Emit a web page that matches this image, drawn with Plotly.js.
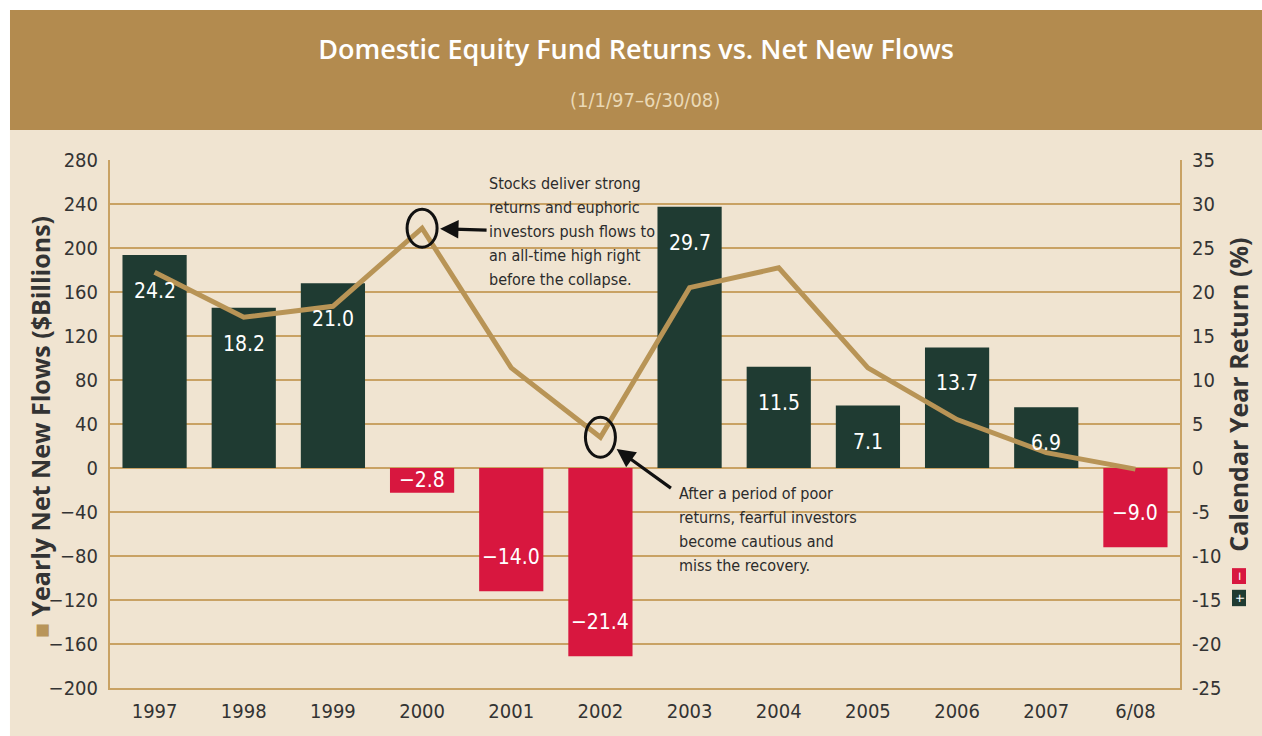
<!DOCTYPE html>
<html>
<head>
<meta charset="utf-8">
<script src="https://cdn.plot.ly/plotly-3.0.1.min.js"></script>
<style>
  html, body { margin: 0; padding: 0; background: #ffffff; }
  #chart { width: 1262px; height: 736px; }
</style>
</head>
<body>
<div id="chart"></div>
<script>
// ---- Data ----
const categories = ['1997', '1998', '1999', '2000', '2001', '2002', '2003', '2004', '2005', '2006', '2007', '6/08'];
const returnsPct = [24.2, 18.2, 21.0, -2.8, -14.0, -21.4, 29.7, 11.5, 7.1, 13.7, 6.9, -9.0];
const netFlows = [178, 137, 147, 218, 91, 28, 164, 182, 91, 44, 14, -1];
const flowTicks = [-200, -160, -120, -80, -40, 0, 40, 80, 120, 160, 200, 240, 280];
const returnTicks = [-25, -20, -15, -10, -5, 0, 5, 10, 15, 20, 25, 30, 35];
const note1Lines = ['Stocks deliver strong', 'returns and euphoric', 'investors push flows to', 'an all-time high right', 'before the collapse.'];
const note2Lines = ['After a period of poor', 'returns, fearful investors', 'become cautious and', 'miss the recovery.'];

// ---- Style ----
const GREEN = '#1f3b32';
const RED = '#d8173f';
const GOLD_LINE = '#b89456';
const GRID = '#c9a264';
const BEIGE = '#f0e4d1';
const HEADER = '#b38b4f';
const TXT = '#333333';
const NARROW = '"Liberation Sans Narrow", "DejaVu Sans Condensed", sans-serif';
const BOLD = '"Open Sans", sans-serif';

const barColors = returnsPct.map(v => v >= 0 ? GREEN : RED);
const idx = categories.map((c, i) => i); // category positions on the axis

const bars = {
  type: 'bar',
  x: categories,
  y: returnsPct,
  yaxis: 'y',
  marker: { color: barColors, line: { width: 0 } },
  hoverinfo: 'x+y',
  showlegend: false
};

const line = {
  type: 'scatter',
  mode: 'lines',
  x: categories,
  y: netFlows,
  yaxis: 'y2',
  line: { color: GOLD_LINE, width: 5, shape: 'linear' },
  showlegend: false
};

// bar value labels
const barLabels = returnsPct.map((v, i) => {
  const small = Math.abs(v) < 5;
  return {
    x: idx[i],
    y: small ? v / 2 : v,
    xref: 'x', yref: 'y',
    text: v.toFixed(1).replace('-', '\u2212'),
    showarrow: false,
    xanchor: 'center',
    yanchor: 'middle',
    yshift: small ? 0 : (v > 0 ? -36 : 34),
    font: { family: NARROW, size: 21, color: '#ffffff' }
  };
});

function noteLines(lines, x, y) {
  return lines.map((t, k) => ({
    xref: 'paper', yref: 'paper', x: x, y: y,
    xanchor: 'left', yanchor: 'middle', align: 'left',
    yshift: -24 * k,
    text: t, showarrow: false,
    font: { family: NARROW, size: 16, color: '#2b2b2b' }
  }));
}

const annotations = barLabels
  .concat(noteLines(note1Lines, 0.352, 1 - (183 - 160) / 528))
  .concat(noteLines(note2Lines, 0.530, 1 - (493 - 160) / 528))
  .concat([
  // subtitle
  {
    xref: 'paper', yref: 'paper', x: 0.5, y: 1.1136, xanchor: 'center', yanchor: 'middle',
    text: '(1/1/97\u20136/30/08)', showarrow: false,
    font: { family: NARROW, size: 20, color: '#ead9b6' }
  },
  // arrow 1
  {
    xref: 'x', yref: 'y2', x: idx[3], y: netFlows[3],
    ax: 66, ay: 2, axref: 'pixel', ayref: 'pixel',
    showarrow: true, arrowhead: 2, arrowsize: 1.15, arrowwidth: 3.2,
    arrowcolor: '#111111', standoff: 18, text: ''
  },
  // arrow 2
  {
    xref: 'x', yref: 'y2', x: idx[5], y: netFlows[5],
    ax: 72, ay: 52, axref: 'pixel', ayref: 'pixel',
    showarrow: true, arrowhead: 2, arrowsize: 1.15, arrowwidth: 3.2,
    arrowcolor: '#111111', standoff: 20, text: ''
  },
  // left axis title (with gold square marker)
  {
    xref: 'paper', yref: 'paper', x: -0.0654, y: 0.494, xanchor: 'center', yanchor: 'middle',
    text: '<span style="color:#b8955a">\u25A0</span> Yearly Net New Flows ($Billions)',
    textangle: -90, showarrow: false,
    font: { family: BOLD, size: 25, color: TXT, weight: 700 }
  },
  // right axis title
  {
    xref: 'paper', yref: 'paper', x: 1.054, y: 0.555, xanchor: 'center', yanchor: 'middle',
    text: 'Calendar Year Return (%)', textangle: -90, showarrow: false,
    font: { family: BOLD, size: 25, color: TXT, weight: 700 }
  },
  // minus / plus on icons
  {
    xref: 'paper', yref: 'paper', x: 1.0551, y: 0.212, xanchor: 'center', yanchor: 'middle',
    text: '\u2212', showarrow: false,
    textangle: -90, font: { family: NARROW, size: 13, color: '#ffffff' }
  },
  {
    xref: 'paper', yref: 'paper', x: 1.0551, y: 0.170, xanchor: 'center', yanchor: 'middle',
    text: '+', showarrow: false,
    textangle: -90, font: { family: NARROW, size: 13, color: '#ffffff' }
  }
]);

const shapes = [
  // header band
  { type: 'rect', xref: 'paper', yref: 'paper', x0: -0.0935, x1: 1.08, y0: 1.0568, y1: 1.284,
    fillcolor: HEADER, line: { width: 0 }, layer: 'below' },
  // white top strip
  { type: 'rect', xref: 'paper', yref: 'paper', x0: -0.11, x1: 1.08, y0: 1.284, y1: 1.31,
    fillcolor: '#ffffff', line: { width: 0 }, layer: 'below' },
  // white left strip
  { type: 'rect', xref: 'paper', yref: 'paper', x0: -0.11, x1: -0.0935, y0: -0.1, y1: 1.31,
    fillcolor: '#ffffff', line: { width: 0 }, layer: 'below' },
  // circle around 2000 peak
  { type: 'circle', xref: 'x', yref: 'y2', xsizemode: 'pixel', ysizemode: 'pixel',
    xanchor: idx[3], yanchor: netFlows[3], x0: -15, x1: 15, y0: -19, y1: 19,
    line: { color: '#111111', width: 3 }, layer: 'above' },
  // circle around 2002 trough
  { type: 'circle', xref: 'x', yref: 'y2', xsizemode: 'pixel', ysizemode: 'pixel',
    xanchor: idx[5], yanchor: netFlows[5], x0: -15, x1: 15, y0: -20, y1: 20,
    line: { color: '#111111', width: 3 }, layer: 'above' },
  // red (-) icon
  { type: 'rect', xref: 'paper', yref: 'paper', x0: 1.0486, x1: 1.0617, y0: 0.197, y1: 0.227,
    fillcolor: RED, line: { width: 0 } },
  // green (+) icon
  { type: 'rect', xref: 'paper', yref: 'paper', x0: 1.0486, x1: 1.0617, y0: 0.155, y1: 0.186,
    fillcolor: GREEN, line: { width: 0 } }
];

const layout = {
  width: 1262,
  height: 736,
  margin: { l: 110, r: 82, t: 160, b: 48 },
  paper_bgcolor: BEIGE,
  plot_bgcolor: 'rgba(0,0,0,0)',
  bargap: 0.28,
  title: {
    text: 'Domestic Equity Fund Returns vs. Net New Flows',
    x: 0.504, xanchor: 'center', y: 0.932, yanchor: 'middle',
    font: { family: BOLD, size: 27, color: '#ffffff', weight: 600 }
  },
  xaxis: {
    type: 'category',
    categoryorder: 'array',
    categoryarray: categories,
    range: [-0.5, 11.5],
    showgrid: false,
    showline: true, linecolor: GRID, linewidth: 2,
    ticks: '',
    tickfont: { family: NARROW, size: 20, color: TXT },
    ticklabelstandoff: 4,
    zeroline: false
  },
  yaxis: {
    side: 'right',
    range: [-25, 35],
    tickvals: returnTicks,
    ticktext: returnTicks.map(String),
    showgrid: true, gridcolor: GRID, gridwidth: 1.6,
    zeroline: true, zerolinecolor: GRID, zerolinewidth: 2,
    showline: true, linecolor: GRID, linewidth: 2,
    ticks: '',
    tickfont: { family: NARROW, size: 20, color: TXT },
    ticklabelstandoff: 6
  },
  yaxis2: {
    side: 'left',
    overlaying: 'y',
    range: [-200, 280],
    tickvals: flowTicks,
    showgrid: false,
    zeroline: false,
    showline: true, linecolor: GRID, linewidth: 2,
    ticks: '',
    tickfont: { family: NARROW, size: 20, color: TXT },
    ticklabelstandoff: 6
  },
  shapes: shapes,
  annotations: annotations,
  showlegend: false
};

Plotly.newPlot('chart', [bars, line], layout, { displayModeBar: false, staticPlot: true });
</script>
</body>
</html>
